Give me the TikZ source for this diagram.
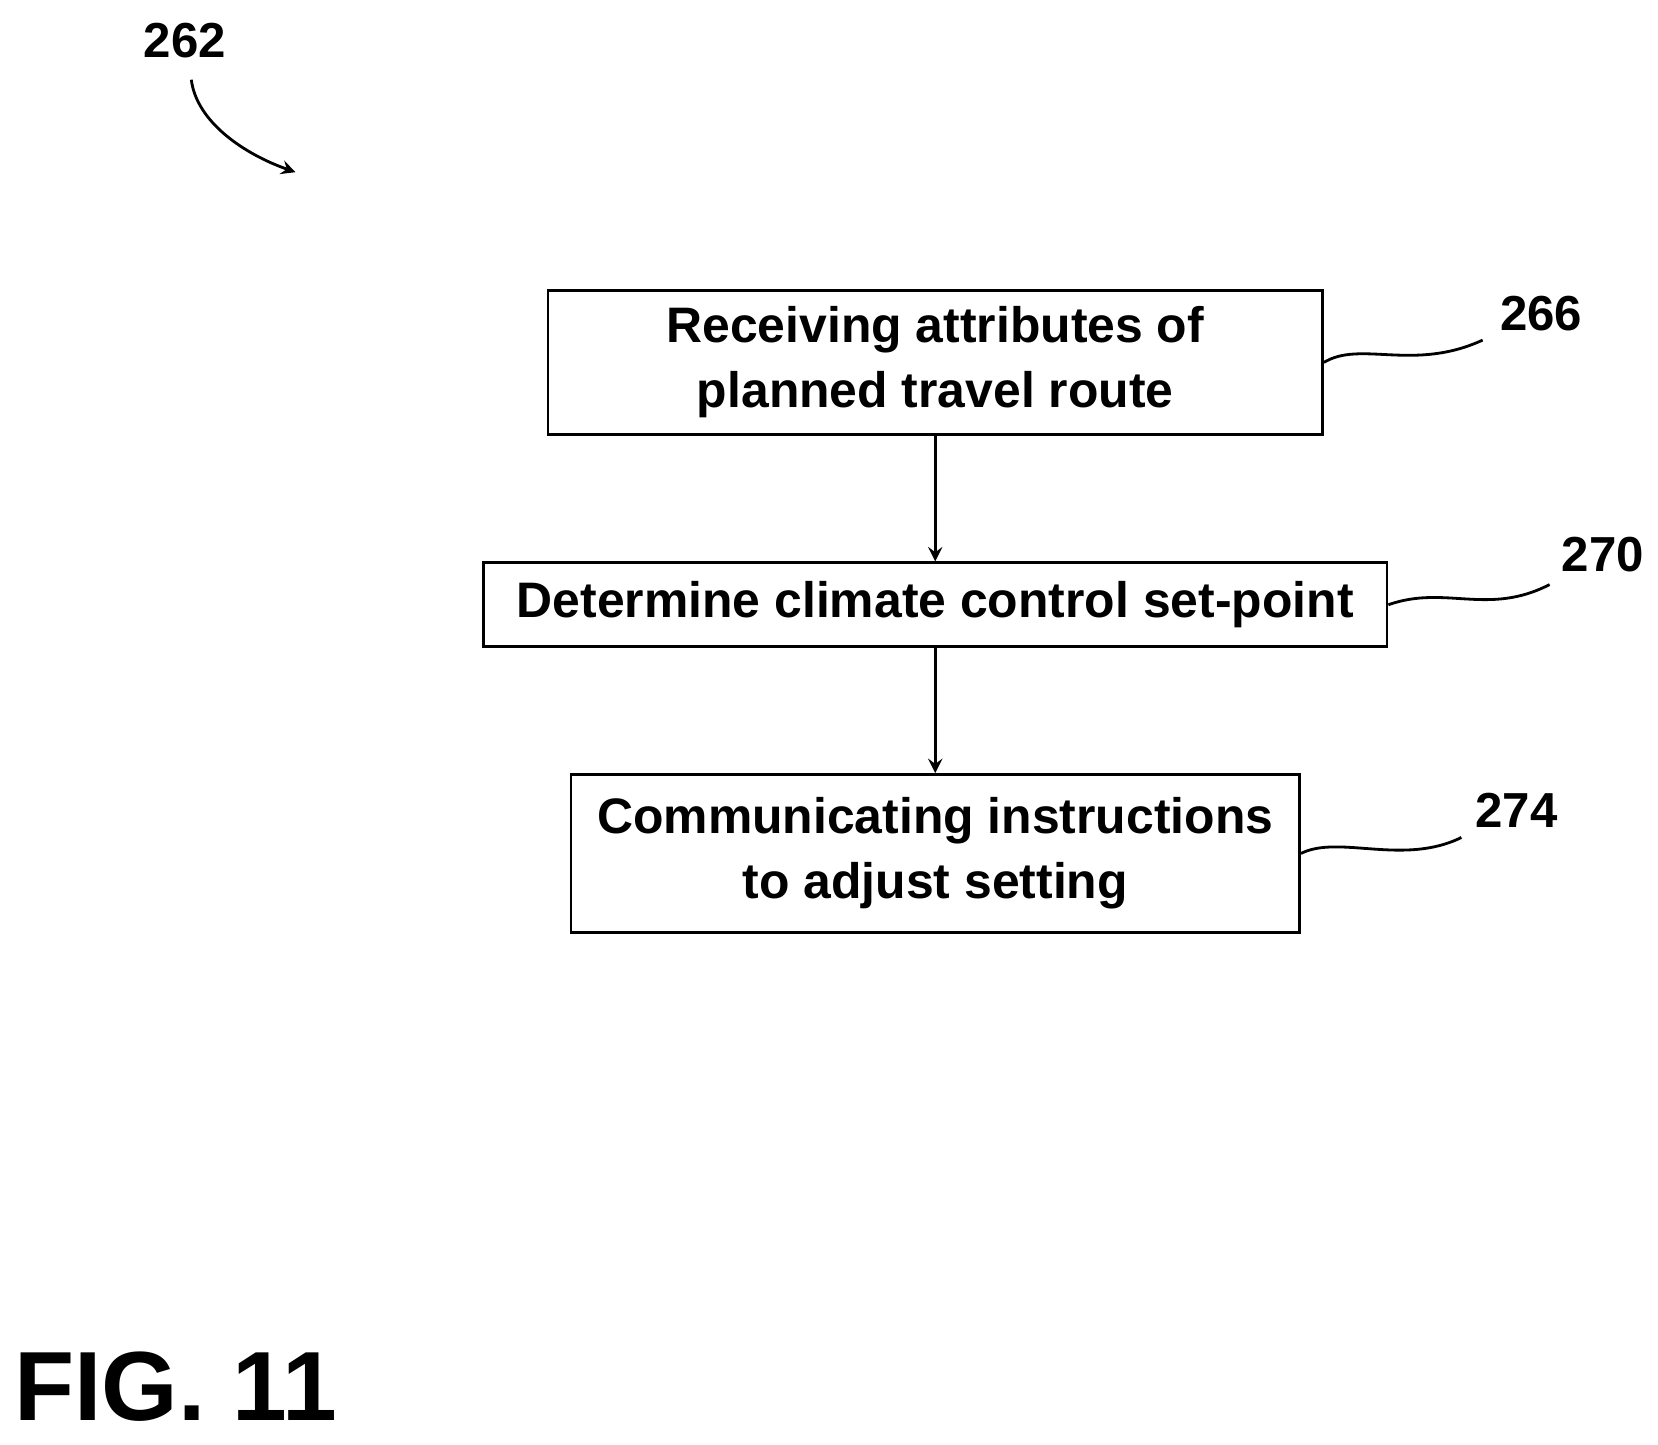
\documentclass[tikz,border=0pt]{standalone}
\usepackage{fontspec}
\setmainfont{Liberation Sans}
\usetikzlibrary{positioning}
\tikzset{step node/.style={rectangle, draw, thick, inner sep=0pt, align=center, font=\fontsize{14.2}{18.5}\selectfont\bfseries},
ref node/.style={font=\fontsize{14}{16}\selectfont\bfseries}}

\begin{document}
\begin{tikzpicture}[x=0.01063cm, y=-0.01063cm, thick, >=stealth]
        \useasboundingbox (0,0) rectangle (1560,1359);
        % Nodes
        \node[step node, minimum width=7.75cm, minimum height=1.44cm] (1) at (880,341) {Receiving attributes of\\planned travel route};
        \node[step node, minimum width=9.04cm, minimum height=0.84cm] (2) at (880,569) {Determine climate control set-point};
        \node[step node, minimum width=7.29cm, minimum height=1.58cm] (3) at (880,803) {Communicating instructions\\to adjust setting};
        \node[ref node] (r1) at (1450,295) {266};
        \node[ref node] (r2) at (1508,522) {270};
        \node[ref node] (r3) at (1427,762) {274};
        \node[ref node] (r0) at (174,38) {262};
        \node[font=\fontsize{28}{34}\selectfont\bfseries] (fig) at (165,1305) {FIG. 11};
        \coordinate (a0) at (278,162);
        % Paths
        \draw[->] (1) -- (2);
        \draw[->] (2) -- (3);
        \draw (1.east |- 0,341) .. controls (1280,320) and (1330,350) .. (1395,320);
        \draw (2.east) .. controls (1360,550) and (1400,580) .. (1458,550);
        \draw (3.east |- 0,803) .. controls (1260,785) and (1320,815) .. (1375,788);
        \draw[->] (180,75) .. controls (185,115) and (230,145) .. (a0);
    \end{tikzpicture}
\end{document}
